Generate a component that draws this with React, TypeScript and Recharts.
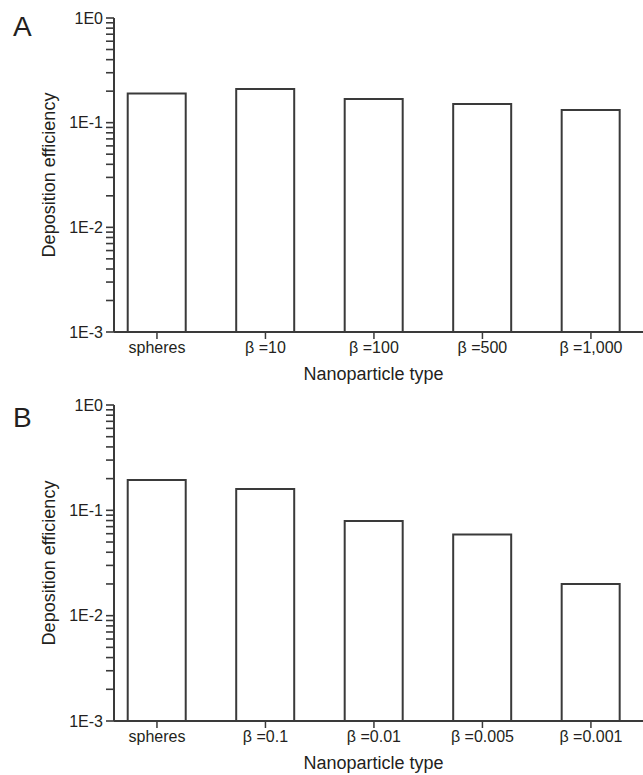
import React from 'react'
import { BarChart, Bar, XAxis, YAxis } from 'recharts'

const FONT = '"Liberation Sans", Arial, Helvetica, sans-serif'
const INK = '#231f20'
const LINE = '#3a3a3a'

// panel A: aspect ratio > 1
const categoriesA = ['spheres', 'β =10', 'β =100', 'β =500', 'β =1,000']
const valuesA = [0.19, 0.21, 0.168, 0.151, 0.132]

// panel B: aspect ratio < 1
const categoriesB = ['spheres', 'β =0.1', 'β =0.01', 'β =0.005', 'β =0.001']
const valuesB = [0.194, 0.159, 0.079, 0.059, 0.02]

// log axis: labelled decades + unlabelled minor ticks
const majorTicks = [0.001, 0.01, 0.1, 1]
const majorLabels = ['1E-3', '1E-2', '1E-1', '1E0']
const minorTicks = [
  0.002, 0.003, 0.004, 0.005, 0.006, 0.007, 0.008, 0.009,
  0.02, 0.03, 0.04, 0.05, 0.06, 0.07, 0.08, 0.09,
  0.2, 0.3, 0.4, 0.5, 0.6, 0.7, 0.8, 0.9,
]

const Y_MIN = 0.001
const Y_MAX = 1
// decades above Y_MIN, so the bars grow up from the bottom of the axis
const toAxis = (v: number) => Math.log10(v / Y_MIN)
const yTicks = [...majorTicks, ...minorTicks].map(toAxis).sort((a, b) => a - b)

// minor ticks get a blank (non-empty) label so they still get drawn
const majorLabelAt = (t: number) => {
  const k = majorTicks.findIndex((m) => Math.abs(toAxis(m) - t) < 1e-6)
  return k >= 0 ? majorLabels[k] : '\u00a0'
}

interface PanelProps {
  categories: string[]
  values: number[]
  top: number
  height: number
  bottom: number
}

function Panel({ categories, values, top, height, bottom }: PanelProps) {
  const data = categories.map((name, i) => ({ pos: i, name, value: values[i] }))
  const xTicks = categories.map((_, i) => i)

  return (
    <div style={{ position: 'absolute', left: 0, top }}>
      <BarChart
        width={643}
        height={height}
        data={data}
        margin={{ top: 18, right: 0, bottom, left: 0 }}
        barSize={58}
      >
        <XAxis
          dataKey="pos"
          type="number"
          domain={[-0.396, 4.48]}
          allowDataOverflow
          ticks={xTicks}
          interval={0}
          tickFormatter={(v: number) => categories[v] ?? ''}
          height={52}
          tickSize={7}
          tickMargin={3}
          axisLine={{ stroke: LINE, strokeWidth: 2 }}
          tickLine={{ stroke: LINE, strokeWidth: 1.5 }}
          tick={{ fill: INK, fontSize: 16, fontFamily: FONT }}
          label={{
            value: 'Nanoparticle type',
            position: 'insideBottom',
            offset: 4,
            dx: -5,
            fill: INK,
            fontSize: 18,
            fontFamily: FONT,
          }}
        />
        <YAxis
          type="number"
          domain={[0, toAxis(Y_MAX)]}
          allowDataOverflow
          ticks={yTicks}
          interval={0}
          tickFormatter={majorLabelAt}
          width={114}
          tickSize={8}
          tickMargin={3}
          axisLine={{ stroke: LINE, strokeWidth: 2 }}
          tickLine={{ stroke: LINE, strokeWidth: 1.6 }}
          tick={{ fill: INK, fontSize: 16, fontFamily: FONT }}
          label={{
            value: 'Deposition efficiency',
            angle: -90,
            position: 'insideLeft',
            offset: 49,
            fill: INK,
            fontSize: 18,
            fontFamily: FONT,
            style: { textAnchor: 'middle' },
          }}
        />
        <Bar
          dataKey={(d: { value: number }) => toAxis(d.value)}
          fill="#ffffff"
          stroke={LINE}
          strokeWidth={2}
          isAnimationActive={false}
        />
      </BarChart>
    </div>
  )
}

const letterStyle: React.CSSProperties = {
  position: 'absolute',
  left: 13,
  fontFamily: FONT,
  fontSize: 28,
  lineHeight: '28px',
  color: INK,
}

export default function App() {
  return (
    <div
      style={{
        position: 'absolute',
        left: 0,
        top: 0,
        width: 643,
        height: 775,
        overflow: 'hidden',
        background: '#ffffff',
      }}
    >
      <Panel categories={categoriesA} values={valuesA} top={0} height={388} bottom={4} />
      <Panel categories={categoriesB} values={valuesB} top={387} height={388} bottom={2} />
      <div style={{ ...letterStyle, top: 13 }}>A</div>
      <div style={{ ...letterStyle, top: 404 }}>B</div>
    </div>
  )
}
